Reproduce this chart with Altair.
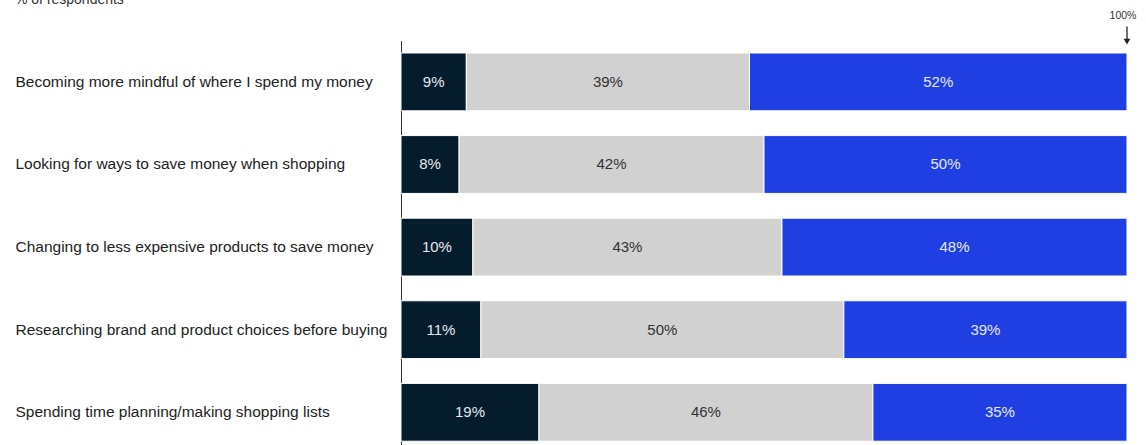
import altair as alt
import pandas as pd

categories = [
    "Becoming more mindful of where I spend my money",
    "Looking for ways to save money when shopping",
    "Changing to less expensive products to save money",
    "Researching brand and product choices before buying",
    "Spending time planning/making shopping lists",
]
series = ["s1", "s2", "s3"]
dark_vals = [9, 8, 10, 11, 19]
gray_vals = [39, 42, 43, 50, 46]
blue_vals = [52, 50, 48, 39, 35]
colors = ["#051C2C", "#D1D1D1", "#1F3FE3"]
label_colors = ["#E6E8EE", "#333333", "#E6E8F8"]

rows = []
for i, c in enumerate(categories):
    for j, vals in enumerate([dark_vals, gray_vals, blue_vals]):
        rows.append({"cat": c, "series": series[j], "tseries": "t" + series[j], "order": j,
                     "v": vals[i], "label": f"{vals[i]}%"})
df = pd.DataFrame(rows)

FONT = "Liberation Sans"

base = alt.Chart(df).transform_stack(
    stack="v", groupby=["cat"], as_=["v0", "v1"], offset="normalize",
    sort=[alt.SortField("order", order="ascending")]
).transform_calculate(mid="(datum.v0 + datum.v1) / 2")

yenc = alt.Y("cat:N", sort=categories,
             scale=alt.Scale(paddingInner=0.3, paddingOuter=0.15),
             axis=alt.Axis(title=None, ticks=False, labelAlign="left", labelPadding=386,
                           labelFont=FONT, labelFontSize=15.5, labelColor="#222222",
                           labelLimit=400, domain=True, domainColor="#333333",
                           domainWidth=1))

xscale = alt.Scale(domain=[0, 1], nice=False, zero=True)

bars = base.mark_bar(stroke="white", strokeWidth=1).encode(
    x=alt.X("v0:Q", scale=xscale, axis=None),
    x2="v1:Q",
    y=yenc,
    color=alt.Color("series:N", scale=alt.Scale(domain=series, range=colors), legend=None),
)

texts = base.mark_text(font=FONT, fontSize=15, align="center", baseline="middle").encode(
    x=alt.X("mid:Q", scale=xscale, axis=None),
    y=alt.Y("cat:N", sort=categories),
    text="label:N",
    color=alt.Color("tseries:N", scale=alt.Scale(domain=["t" + s for s in series], range=label_colors),
                    legend=None),
)

title_txt = alt.Chart(pd.DataFrame({"t": ["% of respondents"]})).mark_text(
    font=FONT, fontSize=14, align="left", baseline="alphabetic", color="#333333"
).encode(x=alt.value(-386), y=alt.value(-37), text="t:N")

hundred = alt.Chart(pd.DataFrame({"t": ["100%"], "x": [1.0]})).mark_text(
    font=FONT, fontSize=10.5, align="center", baseline="middle", dx=-4
).encode(x=alt.X("x:Q", scale=xscale), y=alt.value(-25), text="t:N", color=alt.value("#333333"))

arrow_line = alt.Chart(pd.DataFrame({"x": [1.0]})).mark_rule(strokeWidth=1.3).encode(
    x=alt.X("x:Q", scale=xscale), y=alt.value(-14), y2=alt.value(0), color=alt.value("#222222")
)
arrow_head = alt.Chart(pd.DataFrame({"x": [1.0]})).mark_point(
    shape="triangle-down", filled=True, size=45, opacity=1
).encode(x=alt.X("x:Q", scale=xscale), y=alt.value(1), color=alt.value("#222222"))

chart = alt.layer(bars, texts, title_txt, hundred, arrow_line, arrow_head).resolve_scale(
    color="independent"
).properties(
    width=726, height=413,
    autosize=alt.AutoSizeParams(type="none"),
    padding={"left": 401, "top": 40.6, "right": 19, "bottom": 0},
).configure_view(stroke=None)

chart.save("out.html", embed_options={"renderer": "svg", "actions": False})
